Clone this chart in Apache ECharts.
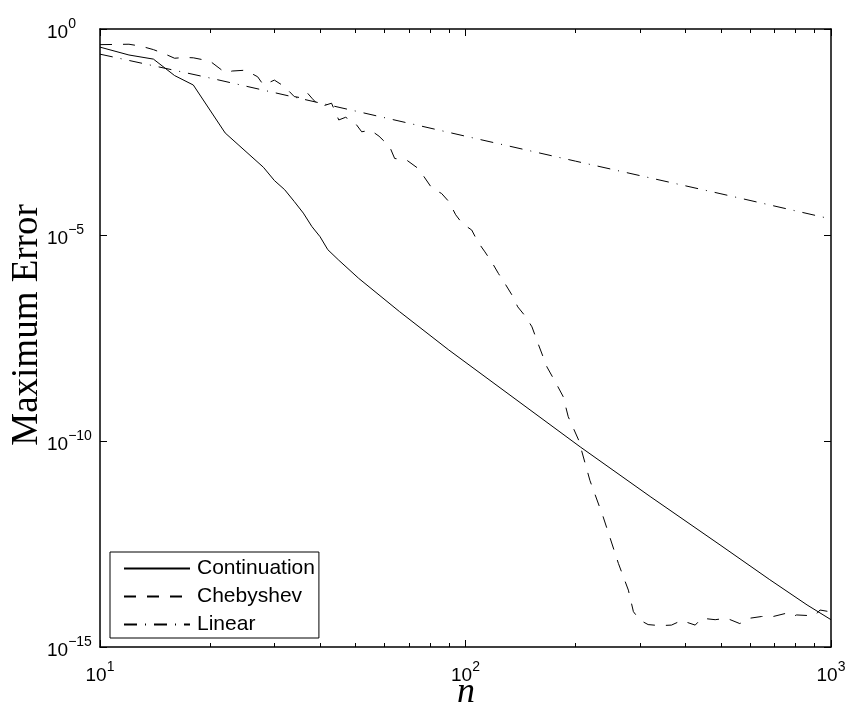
<!DOCTYPE html>
<html>
<head>
<meta charset="utf-8">
<script src="https://cdn.jsdelivr.net/npm/echarts@6/dist/echarts.min.js"></script>
<style>
  html, body { margin: 0; padding: 0; background: #ffffff; }
  #chart { width: 849px; height: 707px; }
</style>
</head>
<body>
<div id="chart"></div>
<script>
// Maximum error versus number of nodes n for three approximation schemes.
const contN = [10, 12, 14, 16, 18, 22, 24, 28, 30, 32, 34, 36, 38, 40, 42, 45, 51, 66, 90, 206, 320, 500, 680, 860, 1000];
const contErr = [0.363, 0.234, 0.186, 0.0741, 0.0437, 3.0e-3, 1.5e-3, 4.4e-4, 2.1e-4, 1.26e-4, 6.5e-5, 3.4e-5, 1.6e-5, 9.1e-6,
  4.4e-6, 2.45e-6, 8.9e-7, 1.38e-7, 1.62e-8, 7.2e-11, 4.5e-12, 2.9e-13, 4.3e-14, 1.05e-14, 4.6e-15];

const chebN = [10, 12, 13, 14, 15, 16, 17, 18, 20, 22, 23, 25, 27, 28, 30, 32, 34, 36, 37, 38, 40, 43, 45, 47, 50, 52, 55, 58,
  62, 64, 69, 74, 77, 81, 86, 90, 94, 98, 104, 108, 113, 118, 123, 128, 134, 139, 146, 152, 158, 167, 177, 185, 191, 204,
  219, 238, 262, 279, 288, 300, 316, 340, 366, 390, 425, 443, 482, 518, 563, 600, 646, 695, 755, 788, 805, 867, 904, 933, 1000];
const chebErr = [0.417, 0.427, 0.380, 0.316, 0.251, 0.195, 0.204, 0.200, 0.166, 0.0871, 0.0955, 0.100, 0.0692, 0.0437, 0.0575,
  0.0398, 0.0229, 0.0209, 0.0275, 0.0209, 0.0129, 0.0158, 6.2e-3, 7.2e-3, 5.1e-3, 3.2e-3, 3.5e-3, 2.5e-3,
  1.4e-3, 7.2e-4, 6.6e-4, 4.2e-4, 2.6e-4, 1.35e-4, 1.02e-4, 6.5e-5, 3.1e-5, 1.9e-5, 1.32e-5, 6.9e-6, 3.9e-6, 2.2e-6,
  1.17e-6, 6.8e-7, 3.5e-7, 1.8e-7, 1.05e-7, 5.9e-8, 2.3e-8, 6.3e-9, 2.5e-9, 1.2e-9, 3.9e-10, 1.05e-10,
  1.1e-11, 1.45e-12, 1.07e-13, 2.4e-14, 7.2e-15, 4.5e-15, 3.5e-15, 3.3e-15, 3.4e-15, 4.4e-15, 3.4e-15, 5.0e-15, 4.6e-15,
  5.0e-15, 3.7e-15, 5.0e-15, 5.5e-15, 5.5e-15, 6.6e-15, 5.5e-15, 6.0e-15, 5.8e-15, 5.8e-15, 7.9e-15, 7.1e-15];

const linN = [10, 20, 50, 100, 200, 500, 1000];
const linErr = [0.245, 0.0646, 0.0102, 2.5e-3, 6.2e-4, 1.0e-4, 2.45e-5];

const seriesNames = ['Continuation', 'Chebyshev', 'Linear'];

const xMajorTicks = [10, 100, 1000];
const xMinorTicks = [20, 30, 40, 50, 60, 70, 80, 90, 200, 300, 400, 500, 600, 700, 800, 900];
const yMajorTicks = [1e-15, 1e-10, 1e-5, 1];

const xTitle = 'n';
const yTitle = 'Maximum Error';

function pairs(xs, ys) {
  return xs.map((x, i) => [x, ys[i]]);
}

// Power-of-ten tick label with a raised exponent
function powerLabel(v) {
  const e = Math.round(Math.log10(v));
  const exp = e < 0 ? '\u2212' + (-e) : String(e);
  return '{b|10}{e|' + exp + '}';
}

const labelRich = {
  b: { fontFamily: 'Liberation Sans', fontSize: 19, lineHeight: 20, color: '#000' },
  e: { fontFamily: 'Liberation Sans', fontSize: 14, lineHeight: 14, color: '#000', padding: [0, 0, 17, 0] }
};

const frameLine = { show: true, onZero: false, lineStyle: { color: '#000', width: 1.5 } };
const tickStyle = { color: '#000', width: 1 };

function xAxisDef(position, ticks, tickLen, withLine, withLabels) {
  return {
    type: 'log', logBase: 10, min: 10, max: 1000, gridIndex: 0, position: position,
    axisLine: withLine ? frameLine : { show: false },
    axisTick: { show: true, inside: true, length: tickLen, customValues: ticks, lineStyle: tickStyle },
    axisLabel: withLabels
      ? { show: true, customValues: xMajorTicks, formatter: powerLabel, margin: 19, rich: labelRich }
      : { show: false },
    splitLine: { show: false },
    minorTick: { show: false }
  };
}

function yAxisDef(position, withLabels) {
  return {
    type: 'log', logBase: 10, min: 1e-15, max: 1, gridIndex: 0, position: position,
    axisLine: frameLine,
    axisTick: { show: true, inside: true, length: 7, customValues: yMajorTicks, lineStyle: tickStyle },
    axisLabel: withLabels
      ? { show: true, customValues: yMajorTicks, formatter: powerLabel, align: 'left', margin: 53,
          padding: [7, 0, 0, 0], rich: labelRich }
      : { show: false },
    splitLine: { show: false },
    minorTick: { show: false }
  };
}

const chart = echarts.init(document.getElementById('chart'), null, { renderer: 'canvas' });

chart.setOption({
  animation: false,
  backgroundColor: '#ffffff',
  grid: { left: 100, right: 18, top: 29, bottom: 60 },
  xAxis: [
    xAxisDef('bottom', xMajorTicks, 7, true, true),
    xAxisDef('bottom', xMinorTicks, 4, false, false),
    xAxisDef('top', xMajorTicks, 7, true, false),
    xAxisDef('top', xMinorTicks, 4, false, false)
  ],
  yAxis: [
    yAxisDef('left', true),
    yAxisDef('right', false)
  ],
  legend: {
    orient: 'vertical', left: 110, top: 552,
    padding: [6, 4, 3, 13], itemGap: 7, itemWidth: 66, itemHeight: 20,
    borderColor: '#000', borderWidth: 1, borderRadius: 0, backgroundColor: '#ffffff',
    itemStyle: { opacity: 0 },
    textStyle: { fontFamily: 'Liberation Sans', fontSize: 21, color: '#000', padding: [0, 0, 0, 2] },
    data: seriesNames
  },
  series: [
    {
      name: seriesNames[0], type: 'line', xAxisIndex: 0, yAxisIndex: 0,
      data: pairs(contN, contErr), symbol: 'none', showSymbol: false,
      itemStyle: { color: '#000' }, lineStyle: { color: '#000', width: 1, type: 'solid' }
    },
    {
      name: seriesNames[1], type: 'line', xAxisIndex: 0, yAxisIndex: 0,
      data: pairs(chebN, chebErr), symbol: 'none', showSymbol: false,
      itemStyle: { color: '#000' }, lineStyle: { color: '#000', width: 1, type: [12, 11] }
    },
    {
      name: seriesNames[2], type: 'line', xAxisIndex: 0, yAxisIndex: 0,
      data: pairs(linN, linErr), symbol: 'none', showSymbol: false,
      itemStyle: { color: '#000' }, lineStyle: { color: '#000', width: 1, type: [13, 8, 1, 8] }
    }
  ],
  graphic: [
    {
      type: 'text', x: 27, y: 325, rotation: Math.PI / 2,
      style: { text: yTitle, font: '37px "Liberation Serif"', fill: '#000', align: 'center', verticalAlign: 'middle' }
    },
    {
      type: 'text', x: 466, y: 693,
      style: { text: xTitle, font: 'italic 36px "Liberation Serif"', fill: '#000', align: 'center', verticalAlign: 'middle' }
    }
  ]
});
</script>
</body>
</html>
